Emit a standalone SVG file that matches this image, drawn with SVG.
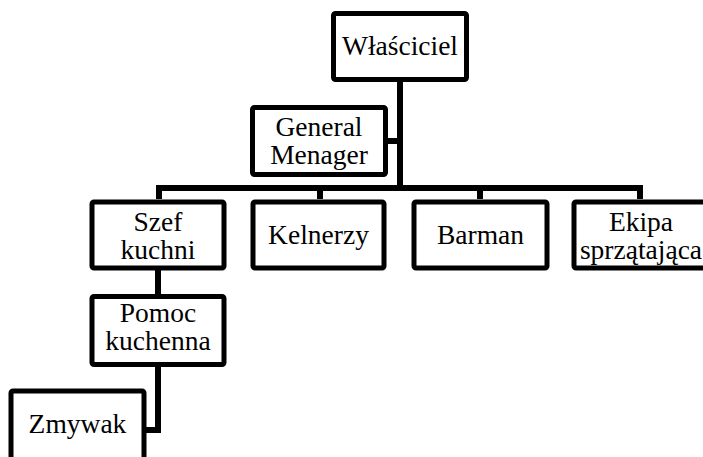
<svg xmlns="http://www.w3.org/2000/svg" width="703" height="457" viewBox="0 0 703 457">
<style>
.box{fill:#fff;stroke:#000;stroke-width:5}
text{font-family:'Liberation Serif','Times New Roman','DejaVu Serif',serif;font-size:27.5px;fill:#000;text-anchor:middle}
.con{fill:none;stroke:#000;stroke-width:6;stroke-linejoin:miter}
</style>
<rect width="703" height="457" fill="#fff"/>
<g id="connectors">
<path class="con" d="M400 82 V188"/>
<path class="con" d="M386 141 H400"/>
<path class="con" d="M159 199 V188 H640 V199"/>
<path class="con" d="M320 188 V199"/>
<path class="con" d="M480 188 V199"/>
<path class="con" d="M158 268 V295"/>
<path class="con" d="M158 365 V430 H145"/>
</g>
<g id="wlasciciel"><rect class="box" x="333.5" y="13.5" width="133" height="66" rx="2"/><text x="400" y="55">Właściciel</text></g>
<g id="general-menager"><rect class="box" x="252.5" y="107.5" width="133" height="67" rx="2"/><text x="319" y="136">General</text><text x="319" y="164">Menager</text></g>
<g id="szef-kuchni"><rect class="box" x="92" y="202" width="132" height="66" rx="2"/><text x="158" y="230.5">Szef</text><text x="158" y="258.5">kuchni</text></g>
<g id="kelnerzy"><rect class="box" x="253" y="202" width="131" height="66" rx="2"/><text x="318.5" y="244">Kelnerzy</text></g>
<g id="barman"><rect class="box" x="414" y="202" width="133" height="66" rx="2"/><text x="480.5" y="244">Barman</text></g>
<g id="ekipa"><rect class="box" x="574" y="202" width="133" height="66" rx="2"/><text x="641" y="230.5">Ekipa</text><text x="641" y="258.5">sprzątająca</text></g>
<g id="pomoc-kuchenna"><rect class="box" x="92" y="296.5" width="132" height="68" rx="2"/><text x="158" y="322">Pomoc</text><text x="158" y="350">kuchenna</text></g>
<g id="zmywak"><rect class="box" x="11" y="391" width="133" height="72" rx="2"/><text x="77.5" y="433">Zmywak</text></g>
</svg>
